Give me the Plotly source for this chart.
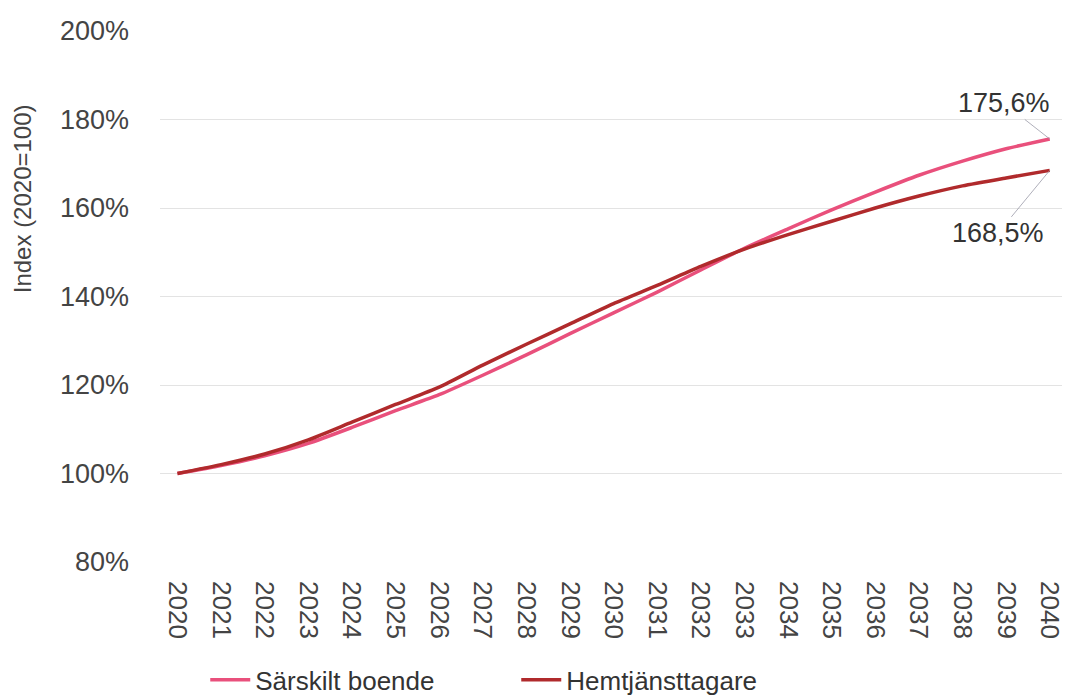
import plotly.graph_objects as go

years = list(range(2020, 2041))
year_labels = [str(y) for y in years]
sarskilt_boende = [100, 101.8, 104, 106.8, 110.4, 114.2, 117.8, 122.2, 126.8, 131.6, 136.3,
                   141, 146, 150.9, 155.3, 159.6, 163.6, 167.4, 170.6, 173.4, 175.6]
hemtjanst = [100, 102, 104.4, 107.6, 111.6, 115.6, 119.5, 124.5, 129.2, 133.8, 138.4,
             142.5, 146.8, 150.7, 154, 157, 160, 162.7, 165, 166.8, 168.5]
series_names = ["Särskilt boende", "Hemtjänsttagare"]
y_ticks = [80, 100, 120, 140, 160, 180, 200]
y_tick_labels = ["80%", "100%", "120%", "140%", "160%", "180%", "200%"]
end_labels = ["175,6%", "168,5%"]

PINK = "#e9507c"
RED = "#b02a2c"
FONT = "Liberation Sans, Arial, sans-serif"

fig = go.Figure()
fig.add_trace(go.Scatter(x=years, y=sarskilt_boende, name=series_names[0], mode="lines",
                         line=dict(color=PINK, width=3.5, shape="spline", smoothing=0.6)))
fig.add_trace(go.Scatter(x=years, y=hemtjanst, name=series_names[1], mode="lines",
                         line=dict(color=RED, width=3.5, shape="spline", smoothing=0.6)))

fig.add_annotation(x=years[-1], y=sarskilt_boende[-1], text=end_labels[0],
                   showarrow=True, arrowhead=0, arrowwidth=0.8, arrowcolor="#9a9aa8",
                   ax=-46, ay=-36, font=dict(size=27, color="#333333", family=FONT))
fig.add_annotation(x=years[-1], y=hemtjanst[-1], text=end_labels[1],
                   showarrow=True, arrowhead=0, arrowwidth=0.8, arrowcolor="#9a9aa8",
                   ax=-52, ay=63, font=dict(size=27, color="#333333", family=FONT))

fig.add_annotation(xref="paper", yref="paper", x=-0.1525, y=0.685, text="Index (2020=100)",
                   textangle=-90, showarrow=False, xanchor="center", yanchor="middle",
                   font=dict(size=24, color="#444444", family=FONT))

fig.update_layout(
    width=1062, height=689,
    margin=dict(l=152, r=5, t=23, b=135, autoexpand=False),
    paper_bgcolor="white", plot_bgcolor="white",
    font=dict(family=FONT, color="#333333"),
    showlegend=True,
    legend=dict(orientation="h", x=0.050, y=0.025, xref="paper", yref="container",
                xanchor="left", yanchor="middle",
                font=dict(size=26, color="#333333", family=FONT),
                entrywidth=256, entrywidthmode="pixels", itemwidth=40),
    xaxis=dict(range=[2019.6, 2040.35], tickmode="array", tickvals=years, ticktext=year_labels,
               tickangle=90, tickfont=dict(size=26, color="#444444", family=FONT),
               showgrid=False, zeroline=False, showline=False, ticks="",
               ticklabelstandoff=18, ticklabeloverflow="allow", automargin=False),
    yaxis=dict(range=[80, 200], tickmode="array", tickvals=y_ticks, ticktext=y_tick_labels,
               tickfont=dict(size=27, color="#444444", family=FONT),
               showgrid=True, gridcolor="#e3e3e3", gridwidth=1, zeroline=False,
               showline=False, ticks="", ticklabelstandoff=30, automargin=False),
)

fig.write_html("out.html")
